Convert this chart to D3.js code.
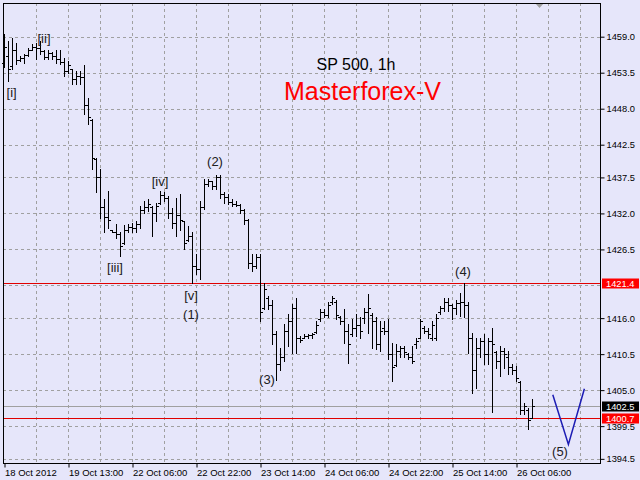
<!DOCTYPE html>
<html><head><meta charset="utf-8">
<script src="https://cdn.jsdelivr.net/npm/d3@7"></script>
<style>
html,body{margin:0;padding:0;background:#e6e6fa;}
svg{display:block;}
</style></head>
<body>
<script>
const barHigh = [1459.4,1458.3,1458.8,1458.1,1456.1,1456.4,1457.3,1457.9,1458.1,1458.3,
1456.9,1456.9,1456.6,1456.9,1457.0,1455.8,1455.3,1454.1,1453.8,1453.8,
1454.7,1449.7,1446.5,1440.5,1438.8,1434.2,1435.5,1429.5,1430.4,1429.1,
1430.3,1430.4,1430.6,1430.9,1433.2,1433.9,1434.2,1433.2,1433.6,1435.5,
1435.2,1434.7,1432.9,1434.4,1435.0,1430.9,1430.1,1429.1,1425.8,1433.9,
1437.3,1437.3,1437.0,1437.8,1437.8,1435.2,1435.0,1434.2,1433.9,1433.5,
1432.7,1431.2,1425.8,1425.8,1425.8,1421.3,1419.4,1418.7,1414.1,1411.5,
1415.1,1416.7,1418.2,1419.0,1413.3,1413.6,1413.6,1413.8,1415.6,1417.4,
1417.4,1418.4,1419.4,1418.7,1416.4,1417.4,1415.1,1415.9,1416.7,1416.1,
1417.6,1419.7,1416.8,1416.1,1415.6,1415.6,1415.9,1412.2,1412.1,1411.8,
1411.8,1410.7,1411.8,1412.9,1415.9,1414.8,1414.5,1415.6,1416.7,1417.9,
1419.1,1419.1,1418.2,1418.7,1419.9,1421.4,1418.4,1413.8,1412.9,1413.0,
1413.6,1412.9,1414.5,1411.0,1411.8,1411.5,1411.0,1409.0,1408.7,1406.4,
1403.1,1402.3,1403.7];
const barLow = [1454.3,1452.3,1454.1,1454.9,1455.3,1455.0,1456.1,1456.9,1455.6,1456.4,
1455.6,1455.6,1455.6,1455.0,1454.9,1453.0,1453.5,1451.8,1451.8,1451.8,
1447.2,1445.7,1438.8,1435.2,1431.3,1429.1,1429.7,1429.1,1428.3,1425.5,
1427.4,1429.1,1429.1,1429.1,1429.7,1432.1,1432.4,1428.6,1430.9,1433.5,
1433.9,1431.3,1429.7,1428.6,1429.4,1426.6,1427.8,1421.3,1422.8,1422.0,
1432.7,1436.2,1435.8,1435.8,1434.4,1433.6,1433.5,1433.2,1433.2,1432.1,
1430.4,1423.6,1423.2,1423.7,1415.6,1417.4,1417.4,1412.1,1406.5,1408.0,
1409.5,1411.8,1410.7,1410.6,1412.3,1412.9,1412.9,1413.0,1413.8,1415.6,
1416.1,1416.1,1418.2,1415.9,1415.1,1412.2,1409.2,1413.3,1413.3,1413.0,
1415.3,1413.8,1411.5,1411.3,1411.0,1413.6,1409.8,1406.4,1408.7,1410.0,
1410.0,1409.8,1409.2,1411.5,1412.9,1413.8,1412.9,1412.6,1412.6,1416.7,
1417.1,1417.1,1415.9,1416.7,1416.4,1416.1,1410.6,1404.5,1405.4,1410.0,
1409.0,1409.0,1401.6,1408.4,1407.2,1408.4,1407.5,1407.5,1406.4,1401.4,
1401.4,1399.1,1400.8];
const barOpen = [1455.0,1456.0,1454.5,1457.0,1455.5,1455.8,1456.2,1457.0,1457.5,1457.2,
1456.8,1455.9,1456.5,1456.0,1455.6,1455.2,1453.8,1454.0,1452.6,1453.0,
1452.8,1448.5,1446.3,1440.3,1437.5,1433.0,1431.5,1429.4,1429.2,1428.8,
1427.5,1429.5,1430.0,1429.8,1430.4,1432.5,1433.0,1433.0,1432.0,1433.6,
1434.8,1434.4,1432.0,1430.5,1431.8,1430.8,1428.0,1428.5,1424.0,1423.5,
1433.0,1436.5,1437.0,1436.2,1437.5,1435.0,1434.5,1433.8,1433.5,1433.3,
1432.5,1431.0,1424.5,1424.0,1425.3,1417.5,1419.0,1418.0,1413.5,1409.0,
1410.0,1414.0,1415.5,1417.5,1413.0,1413.0,1413.2,1413.4,1413.9,1415.8,
1417.0,1416.5,1418.5,1418.5,1416.2,1415.5,1414.0,1413.5,1414.5,1415.0,
1416.0,1417.0,1416.5,1415.5,1412.0,1414.5,1414.0,1410.5,1408.8,1411.0,
1411.5,1410.5,1410.0,1412.0,1413.0,1414.5,1414.0,1413.0,1413.0,1417.0,
1417.5,1418.5,1418.0,1417.5,1418.3,1418.5,1418.0,1413.0,1408.0,1411.5,
1412.5,1410.5,1412.5,1410.8,1409.5,1411.0,1410.0,1408.5,1408.0,1406.3,
1402.0,1402.0,1400.8];
const barClose = [1457.5,1454.0,1457.0,1455.5,1455.8,1456.2,1457.0,1457.5,1457.2,1456.8,
1455.9,1456.5,1456.0,1455.6,1455.2,1453.8,1454.6,1452.6,1453.0,1452.8,
1448.5,1446.8,1440.5,1437.5,1433.0,1431.5,1431.0,1429.2,1428.8,1427.0,
1429.5,1430.0,1429.8,1430.4,1432.5,1433.0,1433.5,1432.0,1433.2,1434.8,
1434.4,1432.0,1430.5,1431.8,1431.0,1427.5,1428.5,1424.0,1423.5,1433.0,
1436.5,1437.0,1436.2,1437.5,1435.0,1434.5,1433.8,1433.5,1433.3,1432.5,
1431.0,1424.5,1424.0,1425.3,1417.0,1420.5,1418.0,1413.5,1409.0,1410.0,
1414.0,1415.5,1417.5,1413.0,1412.6,1413.3,1413.4,1413.6,1415.0,1417.0,
1416.5,1418.0,1419.0,1416.5,1415.5,1414.0,1412.0,1414.5,1415.0,1414.0,
1417.0,1417.5,1415.5,1412.0,1414.0,1414.0,1410.5,1408.5,1411.0,1411.5,
1410.8,1410.0,1409.5,1412.5,1415.5,1414.0,1413.5,1415.0,1416.0,1417.5,
1418.5,1418.0,1417.5,1418.3,1418.5,1418.0,1413.0,1408.0,1411.5,1412.5,
1410.5,1412.5,1412.0,1409.5,1411.0,1410.5,1408.5,1408.0,1406.8,1402.0,
1402.6,1400.5,1402.5];

const timeTickBars = [0,16,32,48,64,80,96,112,128];
const timeTickLabels = ["18 Oct 2012","19 Oct 13:00","22 Oct 06:00","22 Oct 22:00","23 Oct 14:00","24 Oct 06:00","24 Oct 22:00","25 Oct 14:00","26 Oct 06:00"];
const gridBars = [8,16,24,32,40,48,56,64,72,80,88,96,104,112,120,128,136,144];
const priceTicks = [1459.0,1453.5,1448.0,1442.5,1437.5,1432.0,1426.5,1421.0,1416.0,1410.5,1405.0,1399.5,1394.5];
const priceTickLabels = ["1459.0","1453.5","1448.0","1442.5","1437.5","1432.0","1426.5","","1416.0","1410.5","1405.0","1399.5","1394.5"];

const levelPrices = [1421.4, 1400.7];
const bidPrice = 1402.5;

const waveText  = ["[i]","[ii]","[iii]","[iv]","[v]","(1)","(2)","(3)","(4)","(5)"];
const waveBar   = [1.9, 10, 27.75, 39, 46.75, 46.75, 52.75, 65.75, 114.75, 139];
const wavePrice = [1450.55, 1458.8, 1423.8, 1436.95, 1419.4, 1416.6, 1439.9, 1406.55, 1423.2, 1395.55];

const projBar   = [137.2, 141.1, 145.1];
const projPrice = [1404.3, 1396.7, 1405.2];

const titleText = "SP 500, 1h";
const brandText = "Masterforex-V";

const W = 640, H = 480;
const L = 3, R = 600, T = 3, B = 463;
const svg = d3.select("body").append("svg").attr("width", W).attr("height", H)
  .style("font-family", "'Liberation Sans', Arial, sans-serif");
svg.append("rect").attr("width", W).attr("height", H).attr("fill", "#e6e6fa");

const x = d3.scaleLinear().domain([0, 149]).range([4, 600]);
const y = d3.scaleLinear().domain([1459, 1394.5]).range([36.7, 458.85]);

const gridColor = "#a0a0a0";
// horizontal grid
svg.append("g").selectAll("line").data(priceTicks).join("line")
  .attr("x1", L).attr("x2", R)
  .attr("y1", d => Math.round(y(d)) + 0.5).attr("y2", d => Math.round(y(d)) + 0.5)
  .attr("stroke", gridColor).attr("stroke-width", 1).attr("stroke-dasharray", "3,3");
// vertical grid
svg.append("g").selectAll("line").data(gridBars).join("line")
  .attr("x1", d => Math.round(x(d)) + 0.5).attr("x2", d => Math.round(x(d)) + 0.5)
  .attr("y1", T).attr("y2", B)
  .attr("stroke", gridColor).attr("stroke-width", 1).attr("stroke-dasharray", "3,3");

// bid line (gray)
svg.append("line").attr("x1", L).attr("x2", R)
  .attr("y1", Math.round(y(bidPrice)) + 0.5).attr("y2", Math.round(y(bidPrice)) + 0.5)
  .attr("stroke", "#a0a0a0").attr("stroke-width", 1);
// level lines (red)
svg.append("g").selectAll("line").data(levelPrices).join("line")
  .attr("x1", L).attr("x2", R)
  .attr("y1", d => Math.round(y(d)) + 0.5).attr("y2", d => Math.round(y(d)) + 0.5)
  .attr("stroke", "#e00000").attr("stroke-width", 1);

// bars
const bars = svg.append("g").attr("fill", "#000");
barHigh.forEach((h, i) => {
  const bx = Math.round(x(i));
  const yh = Math.round(y(h)), yl = Math.round(y(barLow[i]));
  const yo = Math.round(y(barOpen[i])), yc = Math.round(y(barClose[i]));
  bars.append("rect").attr("x", bx).attr("y", yh).attr("width", 1).attr("height", Math.max(1, yl - yh + 1));
  bars.append("rect").attr("x", bx - 2).attr("y", yo).attr("width", 2).attr("height", 1);
  bars.append("rect").attr("x", bx + 1).attr("y", yc).attr("width", 2).attr("height", 1);
});

// projection
svg.append("path")
  .datum(projBar.map((b, i) => [x(b), y(projPrice[i])]))
  .attr("d", d3.line())
  .attr("fill", "none").attr("stroke", "#1c1cb4").attr("stroke-width", 1.5);

// wave labels
svg.append("g").selectAll("text").data(waveText).join("text")
  .attr("x", (d, i) => x(waveBar[i])).attr("y", (d, i) => y(wavePrice[i]))
  .attr("text-anchor", "middle").attr("dominant-baseline", "central")
  .attr("font-size", 13).attr("fill", "#202020").text(d => d);

// titles
svg.append("text").attr("x", 356).attr("y", 69.5).attr("text-anchor", "middle")
  .attr("font-size", 16).attr("fill", "#000").text(titleText);
svg.append("text").attr("x", 362.5).attr("y", 100).attr("text-anchor", "middle")
  .attr("font-size", 25).attr("fill", "#ff0000").text(brandText);

// shift marker triangle
svg.append("path").attr("d", "M535,3 L544,3 L539.5,8 Z").attr("fill", "#a0a0a0");

// frame
svg.append("rect").attr("x", L + 0.5).attr("y", T + 0.5).attr("width", R - L).attr("height", B - T)
  .attr("fill", "none").attr("stroke", "#000").attr("stroke-width", 1);

// right axis
const yAxis = d3.axisRight(y).tickValues(priceTicks).tickSize(4).tickPadding(2)
  .tickFormat((d, i) => priceTickLabels[i]);
const ga = svg.append("g").attr("transform", `translate(${R + 0.5},0)`).call(yAxis);
ga.select(".domain").remove();
ga.selectAll(".tick line").attr("stroke", "#000");
ga.selectAll(".tick text").attr("font-size", 9.3).attr("fill", "#000")
  .attr("font-family", "'Liberation Sans', Arial, sans-serif");
ga.selectAll(".tick").filter((d, i) => priceTickLabels[i] === "").select("line").remove();

// bottom axis
const xAxis = d3.axisBottom(x).tickValues(timeTickBars).tickSize(4).tickPadding(2)
  .tickFormat((d, i) => timeTickLabels[i]);
const gx = svg.append("g").attr("transform", `translate(0.5,${B + 0.5})`).call(xAxis);
gx.select(".domain").remove();
gx.selectAll(".tick line").attr("stroke", "#000");
gx.selectAll(".tick text").attr("text-anchor", "start").attr("x", 0)
  .attr("font-size", 9.5).attr("fill", "#000")
  .attr("font-family", "'Liberation Sans', Arial, sans-serif");

// price boxes
const boxes = [[levelPrices[0], "#ff0000"], [bidPrice, "#000000"], [levelPrices[1], "#ff0000"]];
const bg = svg.append("g");
boxes.forEach(([p, col]) => {
  const cy = Math.round(y(p)) + 0.5;
  bg.append("rect").attr("x", 602).attr("y", cy - 5).attr("width", 37).attr("height", 10).attr("fill", col);
  bg.append("text").attr("x", 606).attr("y", cy).attr("dominant-baseline", "central")
    .attr("font-size", 9.3).attr("fill", "#fff").text(d3.format(".1f")(p));
});
</script>
</body></html>
